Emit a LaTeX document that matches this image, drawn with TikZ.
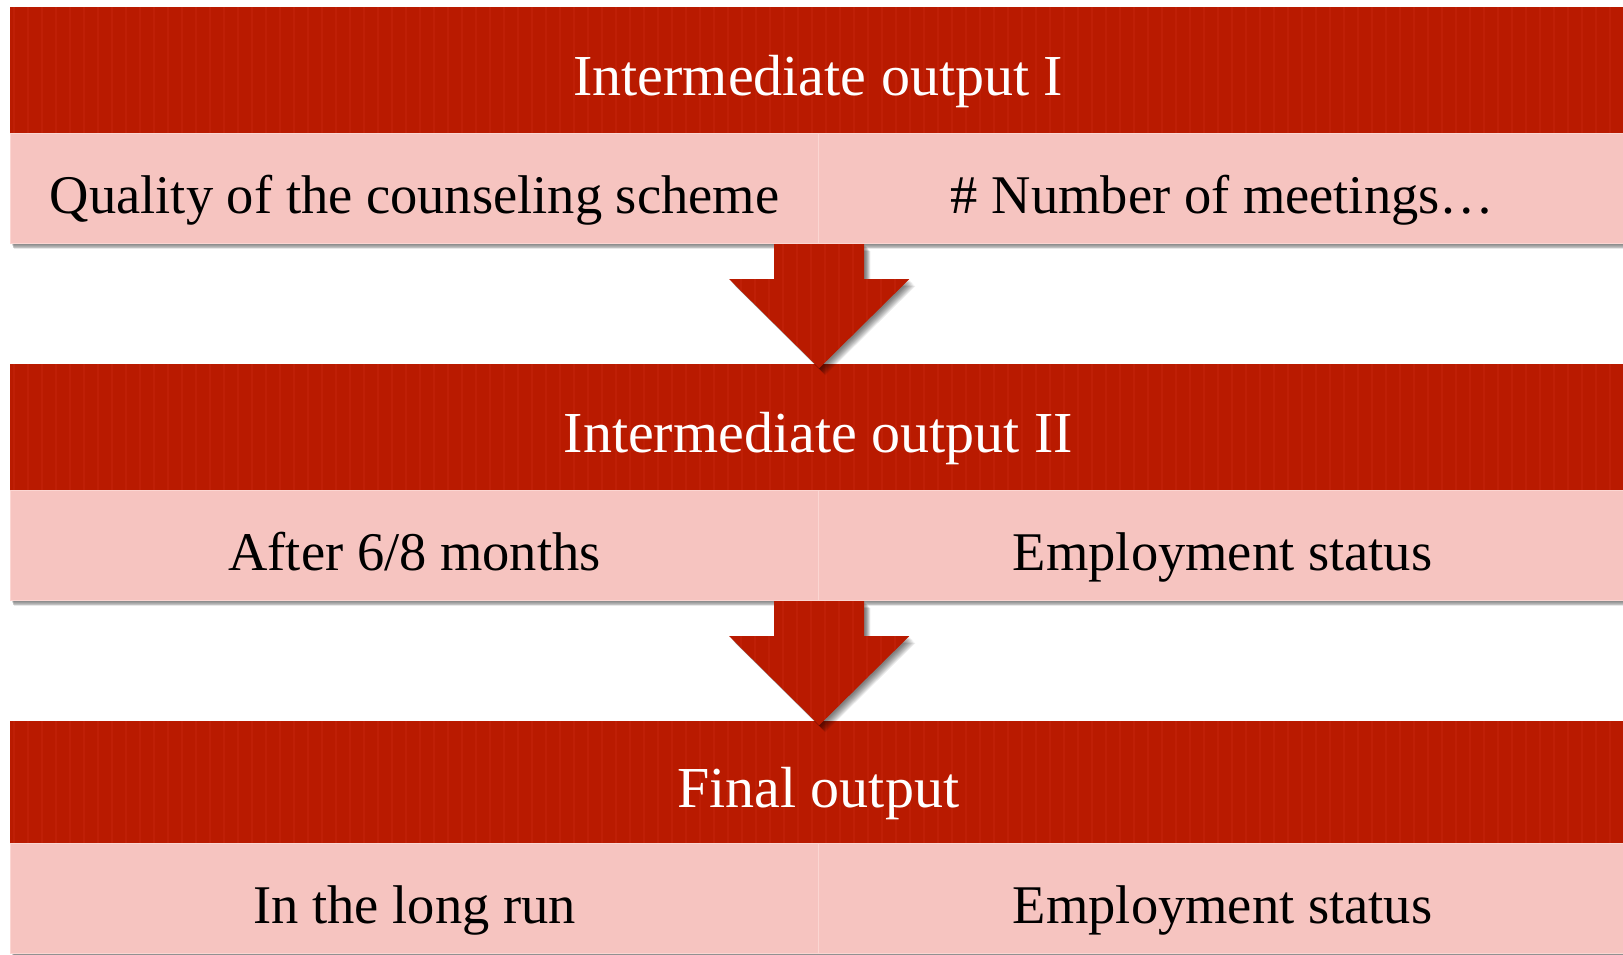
\documentclass[tikz,border=0pt]{standalone}
\usepackage{fontspec}
\setmainfont{Liberation Serif}
\usetikzlibrary{calc}

\definecolor{hdred}{RGB}{185,26,0}
\definecolor{hdstripe}{RGB}{197,36,12}
\definecolor{cellpink}{RGB}{246,196,192}
\definecolor{cellline}{RGB}{251,214,210}

\tikzset{
  hdr/.style={fill=hdred, draw=none, anchor=north west, inner sep=0pt,
    minimum width=1616pt, minimum height=#1},
  hdrtext/.style={text=white, inner sep=0pt, anchor=base,
    font=\fontsize{58}{62}\selectfont},
  cell/.style={fill=cellpink, draw=cellline, line width=1.2pt, anchor=north west,
    inner sep=0pt, minimum width=808pt, minimum height=110pt, text=black,
    text height=50pt, text depth=0pt, font=\fontsize{54.5}{60}\selectfont},
  downarrow/.style={fill=hdred, draw=none},
}

% soft shadow under a band: stacked translucent strips
\newcommand{\bandshadow}[2]{%
  \foreach \k in {1,...,7}
    \fill[black, opacity=0.09] (#1) ++(1+0.4*\k, 0) rectangle ($(#2)+(0,0.9*\k)$);
}
% striped texture over a red area given by its corners
\newcommand{\stripes}[2]{%
  \begin{scope}
    \clip (#1) rectangle (#2);
    \foreach \sx in {0,14,...,1640}
      \draw[hdstripe, line width=1.6pt, opacity=0.5] ($(#1)+(\sx+4,0)$) -- ($(#1)+(\sx+4,300)$);
  \end{scope}%
}
% outline of a downward block arrow, in coordinates local to its top centre
\def\arrowpath{(-45,0) -- (-45,35) -- (-90,35) -- (0,124) -- (90,35) -- (45,35) -- (45,0) -- cycle}

\begin{document}
\begin{tikzpicture}[x=1pt,y=-1pt]
\useasboundingbox (0,0) rectangle (1623,954);
\fill[white] (0,0) rectangle (1623,954);

% shadows under the three bands
\bandshadow{10,133}{1626,243}
\bandshadow{10,490}{1626,600}
\bandshadow{10,843}{1626,953}

% band 1
\node[hdr=126pt] (h1) at (10,7) {};
\stripes{10,7}{1626,133}
\node[hdrtext] (t1) at ($(h1.center)+(0,25)$) {Intermediate output I};
\node[cell] (q1) at (10,133) {Quality of the counseling scheme};
\node[cell] (n1) at (818,133) {\# Number of meetings…};

% band 2
\node[hdr=126pt] (h2) at (10,364) {};
\stripes{10,364}{1626,490}
\node[hdrtext] (t2) at ($(h2.center)+(0,25)$) {Intermediate output II};
\node[cell] (a2) at (10,490) {After 6/8 months};
\node[cell] (e2) at (818,490) {Employment status};

% band 3
\node[hdr=122pt] (h3) at (10,721) {};
\stripes{10,721}{1626,843}
\node[hdrtext] (t3) at ($(h3.center)+(0,25)$) {Final output};
\node[cell] (l3) at (10,843) {In the long run};
\node[cell] (e3) at (818,843) {Employment status};

% block arrows between the bands
\foreach \src in {q1, a2}{
  \coordinate (o) at (\src.south east);
  \foreach \k in {1,...,8}
    \fill[black, opacity=0.08, shift={($(o)+(0.5+0.7*\k,0.5+0.8*\k)$)}] \arrowpath;
  \fill[downarrow, shift={(o)}] \arrowpath;
  \begin{scope}[shift={(o)}]
    \clip \arrowpath;
    \foreach \sx in {-92,-78,...,92}
      \draw[hdstripe, line width=1.6pt, opacity=0.5] (\sx,0) -- (\sx,130);
  \end{scope}
}
\end{tikzpicture}
\end{document}
